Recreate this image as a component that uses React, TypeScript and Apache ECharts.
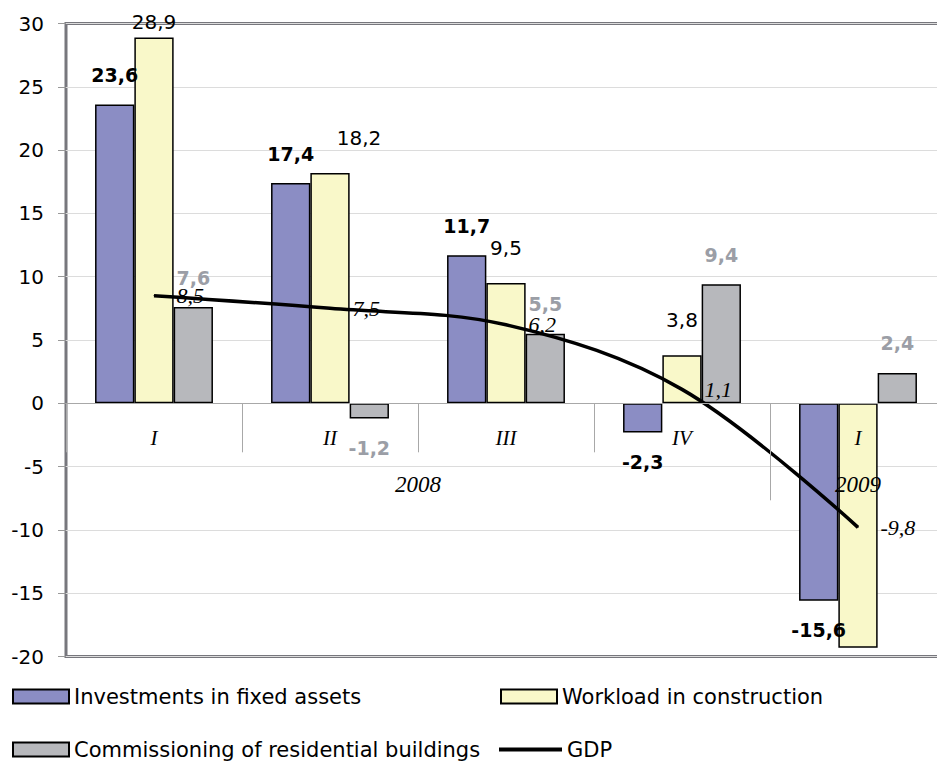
import { useEffect, useRef } from "react";
import * as echarts from "echarts";

const categories = ["I", "II", "III", "IV", "I"];
const yearLabels = ["", "", "", "", "2008", "", "", "", "", "2009", ""];
const investments = [23.6, 17.4, 11.7, -2.3, -15.6];
const workload = [28.9, 18.2, 9.5, 3.8, -19.3];
const commissioning = [7.6, -1.2, 5.5, 9.4, 2.4];
const gdp = [8.5, 7.5, 6.2, 1.1, -9.8];
const workloadLabelShown = [true, true, true, true, false];
const workloadLabelOffsets = [[0, 20], [29, 0], [0, 0], [0, 0], [0, 0]];
const yMin = -20;
const yMax = 30;
const yStep = 5;

const seriesNames = [
  "Investments in fixed assets",
  "Workload in construction",
  "Commissioning of residential buildings",
  "GDP",
];

const SANS = "DejaVu Sans";
const SERIF = "Liberation Serif";

const fmt = (v: number) => String(v).replace(".", ",");

export default function App() {
  const ref = useRef<HTMLDivElement>(null);
  useEffect(() => {
    if (!ref.current) return;
    const chart = echarts.init(ref.current, null, { renderer: "svg" });
    const gridHeight = 633;
    // move the category axes up from the grid bottom to the value 0
    const zeroOffset = -(gridHeight * (0 - yMin)) / (yMax - yMin);
    const barBase = {
      type: "bar",
      barWidth: 39.3,
      barGap: "0%",
      itemStyle: { borderColor: "#000", borderWidth: 1.5 },
    };
    const legendBase = {
      padding: 0,
      itemWidth: 56,
      itemHeight: 14,
      itemGap: 10,
      selectedMode: false,
      textStyle: { fontFamily: SANS, fontSize: 21, color: "#000" },
    };
    chart.setOption({
      animation: false,
      backgroundColor: "#fff",
      grid: {
        left: 66,
        top: 23.5,
        width: 880,
        height: gridHeight,
        show: true,
        borderColor: "#77777d",
        borderWidth: 3,
        containLabel: false,
        outerBoundsMode: "none",
      },
      legend: [
        { ...legendBase, data: [{ name: seriesNames[0], icon: "rect" }], left: 12, top: 686 },
        { ...legendBase, data: [{ name: seriesNames[1], icon: "rect" }], left: 500, top: 686 },
        { ...legendBase, data: [{ name: seriesNames[2], icon: "rect" }], left: 12, top: 739 },
        {
          ...legendBase,
          itemWidth: 63,
          itemHeight: 4,
          data: [{ name: seriesNames[3], icon: "rect" }],
          left: 499,
          top: 739,
        },
      ],
      xAxis: [
        {
          type: "category",
          data: categories,
          position: "bottom",
          offset: zeroOffset,
          z: 10,
          axisLine: { show: true, onZero: false, lineStyle: { color: "#a8a8a8", width: 1 } },
          axisTick: { show: true, length: 49, lineStyle: { color: "#a8a8a8" } },
          axisLabel: {
            margin: 24,
            fontFamily: SERIF,
            fontStyle: "italic",
            fontSize: 21,
            color: "#000",
            interval: 0,
          },
          splitLine: { show: false },
        },
        {
          type: "category",
          data: yearLabels,
          position: "bottom",
          offset: zeroOffset,
          z: 10,
          boundaryGap: false,
          axisLine: { show: false, onZero: false },
          axisTick: {
            show: true,
            interval: (i: number) => i === 8,
            length: 97,
            lineStyle: { color: "#a8a8a8" },
          },
          axisLabel: {
            interval: 0,
            margin: 70,
            fontFamily: SERIF,
            fontStyle: "italic",
            fontSize: 23,
            color: "#000",
          },
          splitLine: { show: false },
        },
      ],
      yAxis: {
        type: "value",
        min: yMin,
        max: yMax,
        interval: yStep,
        axisLine: { show: false },
        axisTick: { show: true, length: 8, lineStyle: { color: "#999" } },
        axisLabel: { margin: 22, fontSize: 20, color: "#000", fontFamily: SANS },
        splitLine: { lineStyle: { color: "#dcdcdc", width: 1 } },
      },
      series: [
        {
          ...barBase,
          name: seriesNames[0],
          itemStyle: { ...barBase.itemStyle, color: "#8b8dc4" },
          label: {
            show: true,
            distance: 20,
            fontFamily: SANS,
            fontWeight: "bold",
            fontSize: 19,
            color: "#000",
            formatter: (p: any) => fmt(p.value),
          },
          data: investments.map((v) => ({
            value: v,
            label: { position: v >= 0 ? "top" : "bottom" },
          })),
        },
        {
          ...barBase,
          name: seriesNames[1],
          itemStyle: { ...barBase.itemStyle, color: "#f9f8c9" },
          label: {
            show: true,
            distance: 25,
            fontFamily: SANS,
            fontSize: 20,
            color: "#000",
            formatter: (p: any) => fmt(p.value),
          },
          data: workload.map((v, i) => ({
            value: v,
            label: {
              show: workloadLabelShown[i],
              position: v >= 0 ? "top" : "bottom",
              offset: workloadLabelOffsets[i],
            },
          })),
        },
        {
          ...barBase,
          name: seriesNames[2],
          itemStyle: { ...barBase.itemStyle, color: "#b7b8bc" },
          label: {
            show: true,
            distance: 20,
            fontFamily: SANS,
            fontWeight: "bold",
            fontSize: 19,
            color: "#9b9ea6",
            formatter: (p: any) => fmt(p.value),
          },
          data: commissioning.map((v) => ({
            value: v,
            label: { position: v >= 0 ? "top" : "bottom" },
          })),
        },
        {
          type: "line",
          name: seriesNames[3],
          data: gdp,
          smooth: 0.35,
          symbol: "circle",
          symbolSize: 1,
          z: 5,
          itemStyle: { color: "#000" },
          lineStyle: { color: "#000", width: 3.5 },
          label: {
            show: true,
            position: "right",
            distance: 22,
            fontFamily: SERIF,
            fontStyle: "italic",
            fontSize: 22,
            color: "#000",
            formatter: (p: any) => fmt(p.value),
          },
        },
      ],
    });
    return () => chart.dispose();
  }, []);
  return (
    <div
      ref={ref}
      style={{ position: "absolute", left: 0, top: 0, width: 937, height: 762 }}
    />
  );
}
